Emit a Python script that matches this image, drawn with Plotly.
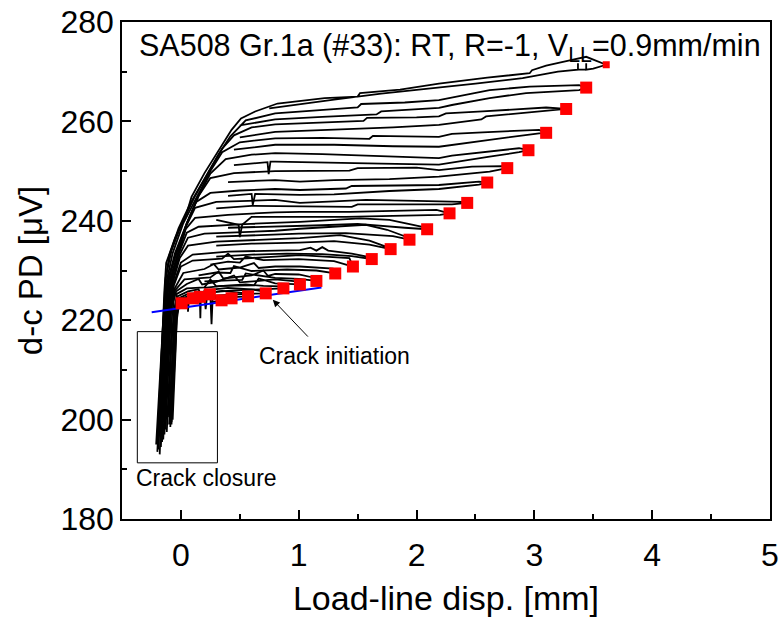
import plotly.graph_objects as go

# ---------------- data ----------------
# red squares: crack-growth points at the end of each loading cycle
marker_x = [3.61, 3.44, 3.27, 3.10, 2.95, 2.77, 2.60, 2.43, 2.28, 2.09, 1.94, 1.78, 1.62,
            1.46, 1.31, 1.15, 1.01, 0.87, 0.72, 0.57, 0.43, 0.345, 0.246, 0.161, 0.102, 0.006]
marker_y = [271.4, 266.8, 262.5, 257.7, 254.2, 250.6, 247.7, 243.6, 241.5, 238.3, 236.2, 234.3, 232.3,
            230.8, 229.4, 227.9, 227.2, 226.4, 225.4, 224.8, 224.4, 224.0, 225.2, 224.7, 224.4, 223.4]
marker_size = [7] + [12] * 25

# blue crack-initiation fit line
blue_x = [-0.248, 1.193]
blue_y = [221.6, 226.6]

# d-c PD vs load-line displacement traces (one per cycle, top to bottom)
cycles = [
    [(-0.20,193.5),(-0.185,202),(-0.17,211),(-0.155,220),(-0.14,226),(-0.125,231.5),(-0.05,236.5),(0.05,241.6),
     (0.09,244.8),(0.2,249.6),(0.31,253.9),(0.43,258.3),(0.51,260.6),(0.63,262.0),(0.82,263.6),(1.22,264.7),
     (1.5,265.0),(1.52,265.7),(1.86,266.4),(2.19,267.6),(2.6,268.8),(2.96,269.7),(2.98,270.3),(3.1,271.2),
     (3.3,272.3),(3.44,273.0),(3.61,271.4),(3.5,270.6),(3.44,270.4),(3.44,271.7),(3.44,270.4),(3.37,270.4),
     (3.37,271.7),(3.37,270.4),(3.2,270.0),(2.9,268.7),(2.5,267.6),(2.1,266.6),(1.7,265.6),(1.3,264.4),
     (1.0,263.4),(0.75,262.6)],
    [(-0.19,194),(-0.175,203),(-0.16,212),(-0.145,221),(-0.13,228),(-0.1,233),(-0.02,238.5),(0.08,243.5),
     (0.2,248.6),(0.32,253.4),(0.42,257),(0.55,260.2),(0.8,261.6),(1.2,262.3),(1.5,262.8),(1.53,263.5),
     (1.9,263.8),(2.19,264.3),(2.4,265.3),(2.62,266.3),(2.96,267.0),(3.38,267.3),(3.44,266.8),(3.38,266.3),
     (2.93,265.7),(2.62,264.7),(2.3,263.3),(2.19,262.7),(1.7,262.0),(1.66,261.4),(1.2,260.9),(0.8,260.4),
     (0.5,259.2)],
    [(-0.21,195),(-0.19,203),(-0.17,212),(-0.15,221),(-0.13,228.5),(-0.08,234),(0.0,239),(0.12,245),
     (0.25,250.5),(0.35,254.5),(0.45,257.2),(0.6,258.8),(0.8,259.4),(1.2,259.8),(1.55,260.1),(1.58,260.7),
     (2.0,260.8),(2.19,261.0),(2.25,261.6),(2.56,262.0),(2.76,262.3),(3.1,262.8),(3.27,262.5),(3.04,262.0),
     (2.59,261.0),(2.55,260.4),(2.19,259.3),(1.8,258.8),(1.3,258.4),(0.8,257.9),(0.5,256.8)],
    [(-0.18,193),(-0.165,202),(-0.15,211),(-0.135,220),(-0.12,228),(-0.07,233.5),(0.02,239.5),(0.14,245),
     (0.25,250),(0.35,253.8),(0.5,255.8),(0.8,256.6),(1.2,256.7),(1.6,256.5),(1.63,257.1),(2.19,256.9),
     (2.3,257.5),(2.56,257.8),(3.04,258.3),(3.10,257.7),(3.04,257.6),(2.62,256.3),(2.19,254.9),(1.8,255.0),
     (1.3,255.3),(0.8,255.3),(0.45,254.3)],
    [(-0.2,196),(-0.185,204),(-0.17,212),(-0.15,220),(-0.11,228),(-0.05,233.5),(0.05,239.5),(0.15,245),
     (0.25,249.5),(0.38,252.4),(0.6,253.3),(0.8,253.6),(1.2,253.4),(1.6,253.1),(1.9,252.8),(2.19,252.6),
     (2.3,253.1),(2.62,253.9),(2.87,254.6),(2.95,254.2),(2.87,253.8),(2.62,252.9),(2.19,251.3),(1.7,251.5),
     (1.2,251.8),(0.8,251.9),(0.76,251.9),(0.745,249.4),(0.735,251.8),(0.45,251.2)],
    [(-0.17,194.5),(-0.155,203),(-0.14,212),(-0.125,221),(-0.1,228.5),(-0.04,233.5),(0.05,239.5),(0.15,245),
     (0.25,248.6),(0.45,249.6),(0.8,250.0),(1.01,250.0),(1.43,250.1),(1.5,250.6),(2.0,250.7),(2.19,250.2),
     (2.47,250.9),(2.73,251.0),(2.77,250.6),(2.62,249.9),(2.19,248.9),(1.77,248.4),(1.3,248.2),(1.01,247.9),
     (0.8,248.2),(0.4,247.8)],
    [(-0.19,197),(-0.175,205),(-0.16,213),(-0.14,221),(-0.1,229),(-0.03,234),(0.05,239.5),(0.13,243.8),
     (0.25,245.6),(0.5,246.1),(0.8,246.4),(1.01,246.2),(1.4,246.5),(1.45,247.0),(1.77,247.1),(2.19,247.2),
     (2.53,247.9),(2.60,247.7),(2.53,247.3),(2.19,246.4),(1.77,246.0),(1.3,245.3),(1.01,245.2),(0.63,245.4),
     (0.61,243.2),(0.6,245.4),(0.4,245.0)],
    [(-0.16,195.5),(-0.145,204),(-0.13,212),(-0.115,220),(-0.09,228.5),(-0.02,234),(0.05,239.2),(0.12,242.6),
     (0.3,243.8),(0.8,244.2),(1.01,243.6),(1.3,243.9),(1.57,244.2),(2.0,244.0),(2.39,243.8),(2.43,243.6),
     (2.3,243.3),(1.9,243.3),(1.5,243.3),(1.45,242.8),(1.01,242.9),(0.6,243.0),(0.3,242.5)],
    [(-0.18,198),(-0.165,205),(-0.15,213),(-0.13,221),(-0.08,228.5),(-0.02,233.5),(0.04,238.3),(0.12,240.6),
     (0.4,241.2),(0.8,241.7),(1.01,241.8),(1.43,241.8),(1.8,242.0),(2.17,242.2),(2.28,241.5),(2.2,241.2),
     (1.8,241.0),(1.4,240.8),(1.0,240.8),(0.6,240.8),(0.52,239.2),(0.5,236.7),(0.49,239.2),(0.3,240.2)],
    [(-0.15,196),(-0.135,204),(-0.12,212),(-0.105,220),(-0.08,228),(-0.02,233.3),(0.05,237.6),(0.15,238.8),
     (0.5,239.3),(0.8,239.6),(1.01,239.8),(1.52,240.5),(1.77,240.2),(2.05,238.8),(2.09,238.3),(1.9,238.6),
     (1.5,239.4),(1.2,239.1),(0.8,238.9),(0.4,238.6)],
    [(-0.17,199),(-0.155,206),(-0.14,213),(-0.12,221),(-0.07,228),(-0.01,233.2),(0.06,236.6),(0.2,237.4),
     (0.8,238.0),(1.01,238.4),(1.57,239.2),(1.75,238.2),(1.91,236.8),(1.94,236.2),(1.8,236.9),(1.4,237.5),
     (1.0,237.4),(0.6,237.1),(0.3,236.8)],
    [(-0.14,197),(-0.125,205),(-0.11,213),(-0.095,221),(-0.07,227.5),(-0.01,232.5),(0.06,235.0),(0.3,235.8),
     (0.8,236.3),(1.01,236.5),(1.35,237.1),(1.6,236.0),(1.74,234.8),(1.78,234.3),(1.6,235.2),(1.3,235.9),
     (1.0,235.6),(0.6,235.4),(0.3,235.0)],
    [(-0.16,200),(-0.145,207),(-0.13,214),(-0.11,221),(-0.06,227.5),(0.0,231.6),(0.1,233.2),(0.4,233.8),
     (0.8,234.0),(1.01,234.1),(1.1,234.6),(1.15,234.0),(1.2,234.7),(1.25,234.0),(1.45,233.4),(1.6,232.7),
     (1.62,232.3),(1.45,232.9),(1.2,233.3),(0.9,233.4),(0.6,233.2),(0.3,232.8)],
    [(-0.13,198),(-0.115,206),(-0.1,213),(-0.085,221),(-0.06,227),(0.0,230.8),(0.1,232.0),(0.35,232.4),
     (0.4,233.4),(0.45,232.3),(0.8,232.8),(1.01,233.1),(1.43,232.5),(1.46,230.8),(1.3,231.9),(1.0,232.3),
     (0.7,232.1),(0.55,232.8),(0.5,231.6),(0.4,231.8),(0.25,231.2)],
    [(-0.15,199.5),(-0.135,207),(-0.12,214),(-0.1,221.5),(-0.05,226.5),(0.02,229.5),(0.2,230.3),(0.28,231.3),
     (0.32,230.2),(0.5,230.6),(0.62,231.5),(0.66,230.5),(0.8,230.8),(1.01,230.8),(1.29,230.4),(1.31,229.4),
     (1.15,230.0),(0.9,230.2),(0.6,229.9),(0.45,230.9),(0.42,229.5),(0.3,229.6),(0.15,229.0)],
    [(-0.12,197.5),(-0.105,205),(-0.09,213),(-0.075,221),(-0.05,226),(0.03,228.2),(0.25,228.6),(0.32,229.8),
     (0.36,228.4),(0.6,229.0),(0.7,230.0),(0.74,228.9),(0.8,229.3),(1.0,229.2),(1.12,228.6),(1.15,227.9),
     (1.0,228.3),(0.8,228.5),(0.55,229.4),(0.52,228.1),(0.2,227.8)],
    [(-0.14,201),(-0.125,208),(-0.11,215),(-0.09,222),(-0.04,225.8),(0.05,227.3),(0.15,228.3),(0.18,227.2),
     (0.3,227.7),(0.45,229.0),(0.5,227.6),(0.8,228.2),(0.98,227.8),(1.01,227.2),(0.8,227.4),(0.66,228.4),
     (0.62,227.0),(0.35,226.9),(0.2,226.5)],
    [(-0.1,199),(-0.085,207),(-0.07,214),(-0.055,221.5),(-0.035,225.3),(0.05,226.4),(0.2,226.6),(0.25,228.2),
     (0.3,226.8),(0.55,227.2),(0.7,226.9),(0.85,226.8),(0.87,226.4),(0.7,226.2),(0.45,226.0),(0.25,225.6)],
    [(-0.11,200.5),(-0.095,208),(-0.08,215),(-0.06,222),(-0.03,224.8),(0.06,225.8),(0.15,226.2),(0.18,224.5),
     (0.2,226.0),(0.4,226.5),(0.6,226.2),(0.7,225.8),(0.72,225.4),(0.55,225.3),(0.35,225.1),(0.2,224.8)],
    [(-0.09,198.5),(-0.075,206),(-0.06,214),(-0.045,221.5),(-0.03,224.3),(0.06,225.3),(0.16,225.5),
     (0.165,220.4),(0.17,225.3),(0.35,225.9),(0.55,225.4),(0.57,224.8),(0.4,224.6),(0.25,224.5)],
    [(-0.1,201),(-0.085,208),(-0.07,215),(-0.05,222),(-0.02,224.0),(0.06,224.8),(0.06,221.7),(0.07,224.8),
     (0.25,225.0),(0.26,219.2),(0.27,224.9),(0.41,225.0),(0.43,224.4),(0.3,224.2)],
    [(-0.08,199.5),(-0.065,207),(-0.05,214),(-0.04,221.5),(-0.02,223.7),(0.1,224.3),(0.2,224.6),(0.21,222.2),
     (0.22,224.4),(0.33,224.4),(0.345,224.0),(0.25,223.6)],
    [(-0.09,200),(-0.075,207),(-0.06,214),(-0.045,221),(-0.02,224.2),(0.1,225.0),(0.23,225.5),(0.246,225.2),
     (0.15,224.6)],
    [(-0.08,201),(-0.065,208),(-0.05,215),(-0.035,221.5),(-0.01,223.8),(0.14,224.9),(0.161,224.7),(0.1,224.3)],
    [(-0.07,200),(-0.055,207),(-0.045,214),(-0.035,221),(-0.01,223.6),(0.09,224.5),(0.102,224.4),(0.06,224.1)],
    [(-0.08,199),(-0.065,206),(-0.05,213),(-0.035,220),(-0.02,222.6),(0.006,223.4)],
]

# annotation box for crack closure
closure_box_x = [-0.37, 0.31]
closure_box_y = [191.3, 217.7]

x_tick0, x_dtick = 0, 1
y_tick0, y_dtick = 180, 20

FONT = "Liberation Sans, Arial, Helvetica, sans-serif"

fig = go.Figure()

for pts in cycles:
    fig.add_trace(go.Scatter(
        x=[p[0] for p in pts], y=[p[1] for p in pts], mode="lines",
        line=dict(color="black", width=1.8), hoverinfo="skip", showlegend=False))

fig.add_trace(go.Scatter(x=blue_x, y=blue_y, mode="lines",
                         line=dict(color="#0000ff", width=2), showlegend=False))

fig.add_trace(go.Scatter(x=marker_x, y=marker_y, mode="markers",
                         marker=dict(symbol="square", color="#ff0000", size=marker_size, opacity=1,
                                     line=dict(width=0)), showlegend=False))

fig.add_shape(type="rect", xref="x", yref="y",
              x0=closure_box_x[0], x1=closure_box_x[1], y0=closure_box_y[0], y1=closure_box_y[1],
              line=dict(color="black", width=1))

fig.add_annotation(x=0.22, y=188.2, xref="x", yref="y", text="Crack closure", showarrow=False,
                   font=dict(family=FONT, size=23, color="black"))
fig.add_annotation(x=1.305, y=212.8, xref="x", yref="y", text="Crack initiation", showarrow=False,
                   font=dict(family=FONT, size=23, color="black"))
fig.add_annotation(x=0.78, y=224.1, ax=1.09, ay=216.4, xref="x", yref="y", axref="x", ayref="y",
                   text="", showarrow=True, arrowhead=2, arrowsize=1.4, arrowwidth=1, arrowcolor="black")
fig.add_annotation(x=0.023, y=0.948, xref="paper", yref="paper", xanchor="left", yanchor="middle",
                   text="SA508 Gr.1a (#33): RT, R=-1, V<sub>LL</sub>=0.9mm/min", showarrow=False,
                   font=dict(family=FONT, size=30.5, color="black"))

axis_common = dict(showgrid=False, zeroline=False, showline=True, linecolor="black", linewidth=1.5,
                   mirror=True, ticks="inside", ticklen=9, tickwidth=1.5, tickcolor="black",
                   tickmode="linear", automargin=False)

fig.update_xaxes(range=[-0.5, 5], tick0=x_tick0, dtick=x_dtick,
                 tickfont=dict(family=FONT, size=32, color="black"),
                 minor=dict(ticks="inside", ticklen=5, tickwidth=1.5, tickcolor="black", dtick=0.5, showgrid=False),
                 title=dict(text="Load-line disp. [mm]", font=dict(family=FONT, size=34, color="black"), standoff=14),
                 ticklabelstandoff=7,
                 **axis_common)
fig.update_yaxes(range=[180, 280], tick0=y_tick0, dtick=y_dtick,
                 tickfont=dict(family=FONT, size=32, color="black"),
                 minor=dict(ticks="inside", ticklen=5, tickwidth=1.5, tickcolor="black", dtick=10, showgrid=False),
                 title=dict(text="d-c PD [μV]", font=dict(family=FONT, size=33, color="black"), standoff=8),
                 **axis_common)

fig.update_layout(width=780, height=622, margin=dict(l=122, r=10, t=22, b=103),
                  plot_bgcolor="white", paper_bgcolor="white", showlegend=False,
                  font=dict(family=FONT, color="black"))

fig.write_html("out.html")
